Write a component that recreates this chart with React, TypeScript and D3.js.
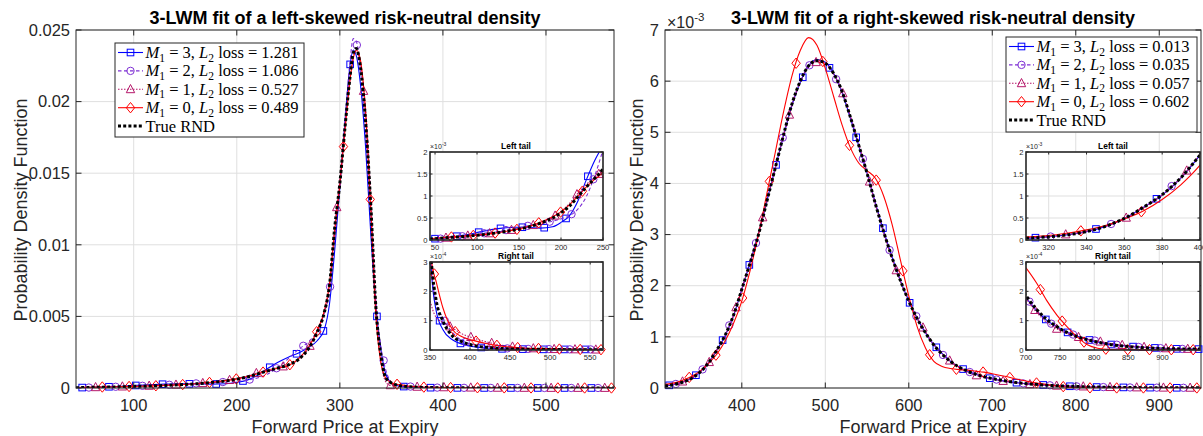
import React from 'react';
import * as d3 from 'd3';

// ---------------- Left-skewed panel (density values in units of 1e-3) ----------------
const xLeft = [44, 56, 70, 85, 100, 115, 130, 145, 160, 175, 190, 200, 210, 220, 230, 240, 250, 260, 270, 278, 285, 290, 295, 300, 305, 310, 313, 316, 320, 325, 330, 335, 340, 344, 348, 352, 358, 366, 378, 390, 405, 420, 440, 465, 500, 530, 566];
const trueLeft = [0.02, 0.04, 0.06, 0.08, 0.11, 0.14, 0.18, 0.23, 0.29, 0.38, 0.50, 0.62, 0.77, 0.98, 1.20, 1.40, 1.62, 2.0, 2.8, 3.9, 5.3, 7.2, 11.2, 14.3, 18.2, 21.8, 23.4, 23.7, 22.4, 18.6, 12.8, 5.6, 2.2, 0.8, 0.45, 0.29, 0.165, 0.10, 0.048, 0.028, 0.015, 0.009, 0.005, 0.003, 0.002, 0.001, 0.001];
const m3Left = [0.02, 0.04, 0.07, 0.11, 0.17, 0.23, 0.27, 0.29, 0.29, 0.27, 0.30, 0.40, 0.55, 0.88, 1.36, 1.80, 2.15, 2.45, 2.85, 3.3, 4.1, 5.9, 9.6, 14.0, 18.6, 22.6, 23.6, 23.2, 21.2, 16.8, 10.8, 5.6, 2.6, 1.1, 0.5, 0.26, 0.13, 0.07, 0.035, 0.02, 0.011, 0.007, 0.004, 0.003, 0.002, 0.002, 0.002];
const m2Left = [0.02, 0.03, 0.06, 0.09, 0.13, 0.17, 0.21, 0.26, 0.32, 0.37, 0.43, 0.48, 0.55, 0.70, 0.98, 1.45, 2.05, 2.7, 3.25, 4.0, 5.3, 6.7, 10.4, 14.2, 18.6, 22.9, 24.4, 24.2, 22.2, 17.9, 12.2, 6.0, 2.8, 1.4, 0.6, 0.28, 0.16, 0.11, 0.06, 0.032, 0.018, 0.011, 0.006, 0.004, 0.003, 0.002, 0.002];
const m1Left = [0.02, 0.04, 0.06, 0.09, 0.12, 0.15, 0.19, 0.24, 0.30, 0.38, 0.51, 0.65, 0.83, 1.06, 1.26, 1.42, 1.58, 2.0, 2.8, 3.9, 5.3, 7.2, 11.3, 14.6, 18.4, 21.6, 23.2, 23.5, 22.6, 19.5, 13.5, 6.0, 1.8, 0.5, 0.2, 0.15, 0.11, 0.095, 0.075, 0.055, 0.04, 0.028, 0.016, 0.007, 0.003, 0.002, 0.001];
const m0Left = [0.03, 0.05, 0.07, 0.09, 0.11, 0.14, 0.18, 0.23, 0.30, 0.40, 0.53, 0.64, 0.80, 1.00, 1.20, 1.38, 1.55, 2.05, 2.9, 4.0, 5.4, 7.3, 11.0, 14.2, 18.0, 21.6, 23.0, 23.6, 22.9, 19.2, 12.5, 5.0, 1.7, 0.75, 0.45, 0.30, 0.23, 0.145, 0.07, 0.045, 0.032, 0.022, 0.013, 0.007, 0.004, 0.002, 0.001];

// ---------------- Right-skewed panel (density values in units of 1e-3) ----------------
const xRight = [308, 316, 324, 332, 340, 350, 360, 370, 380, 390, 400, 410, 420, 430, 440, 450, 460, 470, 480, 490, 500, 510, 520, 530, 540, 550, 560, 570, 580, 590, 600, 610, 620, 630, 640, 650, 660, 670, 680, 690, 700, 715, 730, 745, 760, 775, 790, 805, 820, 840, 860, 880, 900, 920, 955];
const trueRight = [0.04, 0.06, 0.09, 0.13, 0.19, 0.31, 0.49, 0.74, 1.03, 1.42, 1.93, 2.45, 3.0, 3.65, 4.3, 4.95, 5.55, 6.0, 6.3, 6.4, 6.35, 6.15, 5.8, 5.3, 4.75, 4.2, 3.6, 3.05, 2.55, 2.1, 1.7, 1.36, 1.08, 0.84, 0.66, 0.52, 0.41, 0.33, 0.27, 0.22, 0.185, 0.14, 0.105, 0.08, 0.06, 0.046, 0.035, 0.027, 0.02, 0.014, 0.01, 0.007, 0.005, 0.004, 0.003];
const m3Right = [0.04, 0.06, 0.09, 0.13, 0.19, 0.31, 0.49, 0.74, 1.02, 1.41, 1.93, 2.46, 3.02, 3.66, 4.3, 4.93, 5.52, 5.98, 6.3, 6.42, 6.37, 6.15, 5.78, 5.28, 4.74, 4.2, 3.62, 3.07, 2.56, 2.1, 1.7, 1.36, 1.08, 0.85, 0.67, 0.52, 0.41, 0.33, 0.27, 0.22, 0.18, 0.135, 0.102, 0.08, 0.061, 0.047, 0.036, 0.027, 0.02, 0.015, 0.011, 0.008, 0.006, 0.004, 0.003];
const m2Right = [0.04, 0.06, 0.09, 0.13, 0.19, 0.31, 0.49, 0.74, 1.03, 1.42, 1.93, 2.45, 3.0, 3.64, 4.3, 4.96, 5.55, 6.0, 6.3, 6.4, 6.35, 6.14, 5.8, 5.31, 4.76, 4.2, 3.6, 3.04, 2.55, 2.1, 1.71, 1.37, 1.08, 0.84, 0.66, 0.52, 0.41, 0.33, 0.27, 0.22, 0.18, 0.135, 0.10, 0.078, 0.06, 0.048, 0.038, 0.03, 0.022, 0.016, 0.011, 0.008, 0.006, 0.004, 0.003];
const m1Right = [0.05, 0.07, 0.10, 0.14, 0.20, 0.31, 0.48, 0.73, 1.02, 1.42, 1.94, 2.47, 3.02, 3.65, 4.29, 4.93, 5.52, 5.98, 6.28, 6.38, 6.34, 6.14, 5.81, 5.32, 4.78, 4.22, 3.6, 3.03, 2.52, 2.08, 1.70, 1.37, 1.1, 0.86, 0.67, 0.52, 0.40, 0.31, 0.25, 0.21, 0.175, 0.13, 0.095, 0.072, 0.056, 0.045, 0.037, 0.03, 0.024, 0.017, 0.012, 0.009, 0.006, 0.004, 0.003];
const m0Right = [0.07, 0.09, 0.12, 0.17, 0.23, 0.33, 0.48, 0.66, 0.92, 1.26, 1.70, 2.3, 3.0, 3.8, 4.6, 5.4, 6.1, 6.6, 6.85, 6.7, 6.25, 5.7, 5.15, 4.7, 4.4, 4.25, 4.1, 3.75, 3.2, 2.5, 1.8, 1.2, 0.78, 0.52, 0.42, 0.38, 0.36, 0.35, 0.33, 0.31, 0.28, 0.23, 0.17, 0.12, 0.08, 0.045, 0.018, 0.006, 0.002, 0.001, 0.001, 0.001, 0.001, 0.001, 0.001];

// ---------------- Legend / ticks ----------------
const m1Values = ['3', '2', '1', '0'];
const lossLeft = ['1.281', '1.086', '0.527', '0.489'];
const lossRight = ['0.013', '0.035', '0.057', '0.602'];

const mainXTicksLeft = [100, 200, 300, 400, 500];
const mainYTicksLeft = [0, 5, 10, 15, 20, 25];
const mainYLabelsLeft = ['0', '0.005', '0.01', '0.015', '0.02', '0.025'];
const mainXTicksRight = [400, 500, 600, 700, 800, 900];
const mainYTicksRight = [0, 1, 2, 3, 4, 5, 6, 7];
const llXTicks = [50, 100, 150, 200, 250];
const lrXTicks = [350, 400, 450, 500, 550];
const rlXTicks = [320, 340, 360, 380, 400];
const rrXTicks = [700, 750, 800, 850, 900];
const leftTailYTicks = [0, 0.5, 1, 1.5, 2];
const leftTailYLabels = ['0', '0.5', '1', '1.5', '2'];
const rightTailYTicks = [0, 0.1, 0.2, 0.3];
const rightTailYLabels = ['0', '1', '2', '3'];

const markerStartLeft = [50, 56.5, 63, 69.5];
const markerStepLeft = 26;
const markerStartRight = [313, 321, 329, 337];
const markerStepRight = 32;

const GRID = '#dfdfdf';
const AX = '#262626';
const SANS = "'Liberation Sans', Arial, Helvetica, sans-serif";
const SERIF = "'Liberation Serif', 'DejaVu Serif', 'Times New Roman', serif";

type MarkerType = 'square' | 'circle' | 'triangle' | 'diamond' | null;
const STYLES: { color: string; dash?: string; width: number; marker: MarkerType }[] = [
  { color: '#0000ff', dash: undefined, width: 1.1, marker: 'square' },
  { color: '#7e2fd4', dash: '3.5,2.5', width: 1.1, marker: 'circle' },
  { color: '#b5176a', dash: '1.5,1.5', width: 1.1, marker: 'triangle' },
  { color: '#ff0000', dash: undefined, width: 1.1, marker: 'diamond' },
  { color: '#000000', dash: '3,2.2', width: 3, marker: null },
];

function Marker({ type, cx, cy, color }: { type: MarkerType; cx: number; cy: number; color: string }) {
  const common = { fill: 'none', stroke: color, strokeWidth: 1 };
  if (type === 'square') return <rect x={cx - 3.3} y={cy - 3.3} width={6.6} height={6.6} {...common} />;
  if (type === 'circle') return <circle cx={cx} cy={cy} r={3.7} {...common} />;
  if (type === 'triangle')
    return <polygon points={`${cx},${cy - 4.8} ${cx - 4.2},${cy + 3.4} ${cx + 4.2},${cy + 3.4}`} {...common} />;
  if (type === 'diamond')
    return <polygon points={`${cx},${cy - 5.2} ${cx + 4.2},${cy} ${cx},${cy + 5.2} ${cx - 4.2},${cy}`} {...common} />;
  return null;
}

type Box = { l: number; r: number; t: number; b: number };

interface AxesProps {
  id: string;
  box: Box;
  xDomain: [number, number];
  yDomain: [number, number];
  xs: number[];
  ys: number[][];
  xTicks: number[];
  xTickLabels: string[];
  yTicks: number[];
  yTickLabels: string[];
  fontSize: number;
  tickLen: number;
  boxWidth: number;
  markerStarts: number[];
  markerStep: number;
  xLabelDy: number;
  yLabelDx: number;
  inset: boolean;
}

function Axes(p: AxesProps) {
  const { l, r, t, b } = p.box;
  const x = d3.scaleLinear().domain(p.xDomain).range([l, r]);
  const y = d3.scaleLinear().domain(p.yDomain).range([b, t]);
  const line = d3
    .line<number>()
    .x((_, i) => x(p.xs[i]))
    .y((d) => y(d))
    .curve(d3.curveMonotoneX);

  const seriesEls = p.ys.map((vals, i) => {
    const st = STYLES[i];
    const interp = d3.scaleLinear().domain(p.xs).range(vals);
    let marks: { mx: number; my: number }[] = [];
    if (st.marker) {
      marks = d3
        .range(p.markerStarts[i], p.xDomain[1] + 0.01, p.markerStep)
        .filter((mx) => mx >= p.xDomain[0] - 0.01)
        .map((mx) => ({ mx, my: interp(mx) }))
        .filter((m) => m.my <= p.yDomain[1] * 1.01);
    }
    return (
      <g key={'s' + i}>
        <path
          d={line(vals) || ''}
          fill="none"
          stroke={st.color}
          strokeWidth={st.width}
          strokeDasharray={st.dash}
          clipPath={`url(#${p.id})`}
        />
        {marks.map((m, k) => (
          <Marker key={k} type={st.marker} cx={x(m.mx)} cy={y(m.my)} color={st.color} />
        ))}
      </g>
    );
  });

  const tl = p.tickLen;
  return (
    <g>
      <defs>
        <clipPath id={p.id}>
          <rect x={l} y={t} width={r - l} height={b - t} />
        </clipPath>
      </defs>
      <rect x={l} y={t} width={r - l} height={b - t} fill="#fff" />
      {p.xTicks.map((v) => (
        <line key={'gx' + v} x1={x(v)} x2={x(v)} y1={t} y2={b} stroke={GRID} strokeWidth={1} />
      ))}
      {p.yTicks.map((v) => (
        <line key={'gy' + v} x1={l} x2={r} y1={y(v)} y2={y(v)} stroke={GRID} strokeWidth={1} />
      ))}
      {seriesEls}
      {p.xTicks.map((v) => (
        <g key={'tx' + v}>
          <line x1={x(v)} x2={x(v)} y1={b} y2={b - tl} stroke={AX} strokeWidth={1} />
          <line x1={x(v)} x2={x(v)} y1={t} y2={t + tl} stroke={AX} strokeWidth={1} />
        </g>
      ))}
      {p.yTicks.map((v) => (
        <g key={'ty' + v}>
          <line x1={l} x2={l + tl} y1={y(v)} y2={y(v)} stroke={AX} strokeWidth={1} />
          <line x1={r} x2={r - tl} y1={y(v)} y2={y(v)} stroke={AX} strokeWidth={1} />
        </g>
      ))}
      <rect x={l} y={t} width={r - l} height={b - t} fill="none" stroke={AX} strokeWidth={p.boxWidth} />
      {p.xTicks.map((v, i) => (
        <text
          key={'lx' + v}
          x={x(v)}
          y={b + p.xLabelDy}
          dy="0.35em"
          textAnchor="middle"
          fontFamily={SANS}
          fontSize={p.fontSize}
          fill={AX}
        >
          {p.xTickLabels[i]}
        </text>
      ))}
      {p.yTicks.map((v, i) => (
        <text
          key={'ly' + v}
          x={l - p.yLabelDx}
          y={y(v)}
          dy="0.35em"
          textAnchor="end"
          fontFamily={SANS}
          fontSize={p.fontSize}
          fill={AX}
        >
          {p.yTickLabels[i]}
        </text>
      ))}
    </g>
  );
}

function Legend({ left, top, width, height, losses }: { left: number; top: number; width: number; height: number; losses: string[] }) {
  const rowY = (i: number) => top + 9.5 + 18.4 * i;
  const fs = 16.5;
  const sub = 11.5;
  return (
    <g>
      <rect x={left} y={top} width={width} height={height} fill="#fff" stroke={AX} strokeWidth={1} />
      {STYLES.map((st, i) => {
        const yy = rowY(i);
        return (
          <g key={i}>
            <line
              x1={left + 3}
              x2={left + 28}
              y1={yy}
              y2={yy}
              stroke={st.color}
              strokeWidth={st.width}
              strokeDasharray={st.dash}
            />
            {st.marker && <Marker type={st.marker} cx={left + 15.5} cy={yy} color={st.color} />}
            {i < 4 ? (
              <text x={left + 30.5} y={yy + 5.5} fontFamily={SERIF} fontSize={fs} fill="#000">
                <tspan fontStyle="italic">M</tspan>
                <tspan fontSize={sub} dy={3.5}>1</tspan>
                <tspan dy={-3.5}>{` = ${m1Values[i]}, `}</tspan>
                <tspan fontStyle="italic">L</tspan>
                <tspan fontSize={sub} dy={3.5}>2</tspan>
                <tspan dy={-3.5}>{` loss = ${losses[i]}`}</tspan>
              </text>
            ) : (
              <text x={left + 30.5} y={yy + 5.5} fontFamily={SERIF} fontSize={fs} fill="#000">
                True RND
              </text>
            )}
          </g>
        );
      })}
    </g>
  );
}

function InsetTitle({ cx, y, text }: { cx: number; y: number; text: string }) {
  return (
    <text x={cx} y={y} textAnchor="middle" fontFamily={SANS} fontWeight="bold" fontSize={8.4} fill="#000">
      {text}
    </text>
  );
}

function Exponent({ x, y, exp, fs }: { x: number; y: number; exp: string; fs: number }) {
  return (
    <text x={x} y={y} fontFamily={SANS} fontSize={fs} fill={AX}>
      ×10
      <tspan fontSize={fs * 0.72} dy={-fs * 0.45}>
        {exp}
      </tspan>
    </text>
  );
}

export default function App() {
  const seriesLeft = [m3Left, m2Left, m1Left, m0Left, trueLeft];
  const seriesRight = [m3Right, m2Right, m1Right, m0Right, trueRight];
  const mainBoxL: Box = { l: 76, r: 614, t: 30, b: 388 };
  const mainBoxR: Box = { l: 665, r: 1201, t: 30, b: 388 };
  const mainCommon = {
    fontSize: 16.5,
    tickLen: 5.5,
    boxWidth: 1,
    xLabelDy: 17,
    yLabelDx: 6,
    inset: false,
  };
  const insetCommon = {
    fontSize: 7.6,
    tickLen: 2.5,
    boxWidth: 1.6,
    xLabelDy: 7,
    yLabelDx: 2.5,
    inset: true,
  };
  return (
    <svg
      width={1203}
      height={436}
      viewBox="0 0 1203 436"
      style={{ position: 'absolute', left: 0, top: 0, background: '#fff' }}
    >
      {/* ===== Left panel ===== */}
      <Axes
        id="clipMainL"
        box={mainBoxL}
        xDomain={[44, 566]}
        yDomain={[0, 25]}
        xs={xLeft}
        ys={seriesLeft}
        xTicks={mainXTicksLeft}
        xTickLabels={mainXTicksLeft.map(String)}
        yTicks={mainYTicksLeft}
        yTickLabels={mainYLabelsLeft}
        markerStarts={markerStartLeft}
        markerStep={markerStepLeft}
        {...mainCommon}
      />
      <text x={345} y={24} textAnchor="middle" fontFamily={SANS} fontWeight="bold" fontSize={18} fill="#000">
        3-LWM fit of a left-skewed risk-neutral density
      </text>
      <text x={345} y={433} textAnchor="middle" fontFamily={SANS} fontSize={18} fill={AX}>
        Forward Price at Expiry
      </text>
      <text transform="translate(27,210) rotate(-90)" textAnchor="middle" fontFamily={SANS} fontSize={18} fill={AX}>
        Probability Density Function
      </text>
      <Legend left={115} top={43} width={189} height={94} losses={lossLeft} />

      <Axes
        id="clipLL"
        box={{ l: 430, r: 603, t: 152, b: 240 }}
        xDomain={[44, 250]}
        yDomain={[0, 2]}
        xs={xLeft}
        ys={seriesLeft}
        xTicks={llXTicks}
        xTickLabels={llXTicks.map(String)}
        yTicks={leftTailYTicks}
        yTickLabels={leftTailYLabels}
        markerStarts={markerStartLeft}
        markerStep={markerStepLeft}
        {...insetCommon}
      />
      <InsetTitle cx={516} y={149} text="Left tail" />
      <Exponent x={430} y={149} exp="-3" fs={7} />

      <Axes
        id="clipLR"
        box={{ l: 430, r: 603, t: 262, b: 350 }}
        xDomain={[350, 566]}
        yDomain={[0, 0.3]}
        xs={xLeft}
        ys={seriesLeft}
        xTicks={lrXTicks}
        xTickLabels={lrXTicks.map(String)}
        yTicks={rightTailYTicks}
        yTickLabels={rightTailYLabels}
        markerStarts={markerStartLeft}
        markerStep={markerStepLeft}
        {...insetCommon}
      />
      <InsetTitle cx={516} y={259} text="Right tail" />
      <Exponent x={430} y={259} exp="-4" fs={7} />

      {/* ===== Right panel ===== */}
      <Axes
        id="clipMainR"
        box={mainBoxR}
        xDomain={[308, 950]}
        yDomain={[0, 7]}
        xs={xRight}
        ys={seriesRight}
        xTicks={mainXTicksRight}
        xTickLabels={mainXTicksRight.map(String)}
        yTicks={mainYTicksRight}
        yTickLabels={mainYTicksRight.map(String)}
        markerStarts={markerStartRight}
        markerStep={markerStepRight}
        {...mainCommon}
      />
      <text x={933} y={24} textAnchor="middle" fontFamily={SANS} fontWeight="bold" fontSize={18} fill="#000">
        3-LWM fit of a right-skewed risk-neutral density
      </text>
      <Exponent x={667} y={28} exp="-3" fs={16} />
      <text x={933} y={433} textAnchor="middle" fontFamily={SANS} fontSize={18} fill={AX}>
        Forward Price at Expiry
      </text>
      <text transform="translate(643,210) rotate(-90)" textAnchor="middle" fontFamily={SANS} fontSize={18} fill={AX}>
        Probability Density Function
      </text>
      <Legend left={1006} top={37} width={191} height={95} losses={lossRight} />

      <Axes
        id="clipRL"
        box={{ l: 1026, r: 1200, t: 152, b: 240 }}
        xDomain={[308, 400]}
        yDomain={[0, 2]}
        xs={xRight}
        ys={seriesRight}
        xTicks={rlXTicks}
        xTickLabels={rlXTicks.map(String)}
        yTicks={leftTailYTicks}
        yTickLabels={leftTailYLabels}
        markerStarts={markerStartRight}
        markerStep={markerStepRight}
        {...insetCommon}
      />
      <InsetTitle cx={1113} y={149} text="Left tail" />
      <Exponent x={1026} y={149} exp="-3" fs={7} />

      <Axes
        id="clipRR"
        box={{ l: 1026, r: 1200, t: 262, b: 350 }}
        xDomain={[700, 955]}
        yDomain={[0, 0.3]}
        xs={xRight}
        ys={seriesRight}
        xTicks={rrXTicks}
        xTickLabels={rrXTicks.map(String)}
        yTicks={rightTailYTicks}
        yTickLabels={rightTailYLabels}
        markerStarts={markerStartRight}
        markerStep={markerStepRight}
        {...insetCommon}
      />
      <InsetTitle cx={1113} y={259} text="Right tail" />
      <Exponent x={1026} y={259} exp="-4" fs={7} />
    </svg>
  );
}
